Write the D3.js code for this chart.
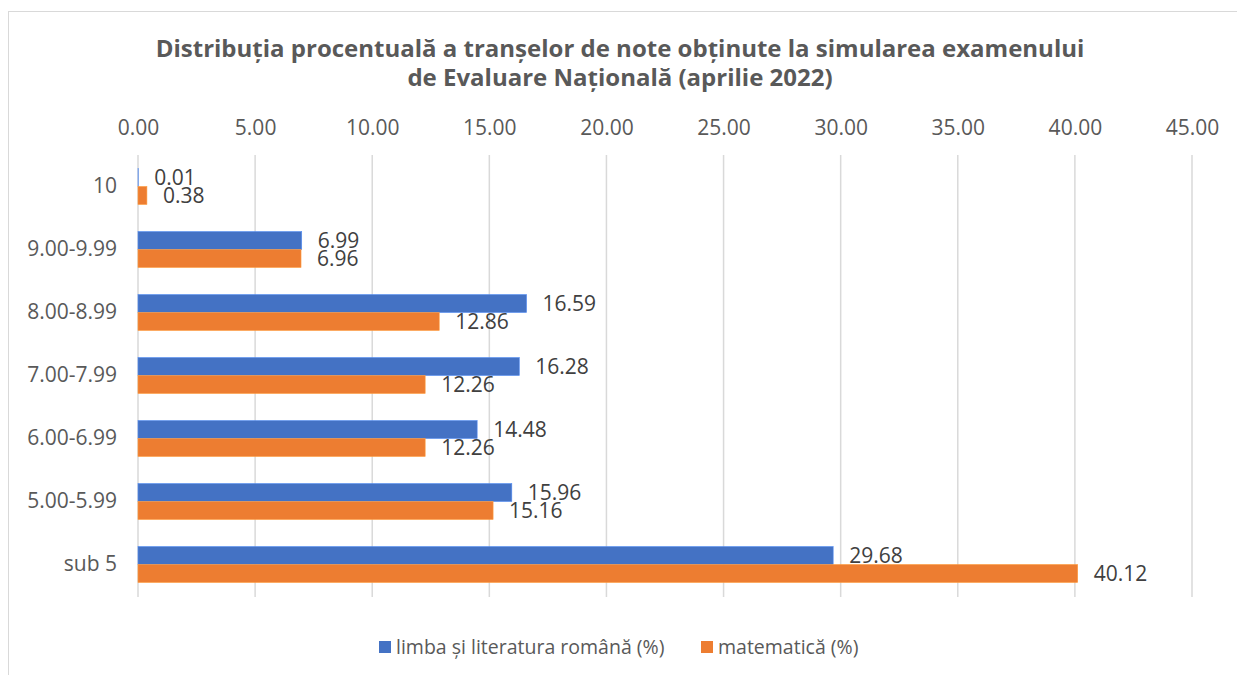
<!DOCTYPE html>
<html>
<head>
<meta charset="utf-8">
<script src="https://cdn.jsdelivr.net/npm/d3@7"></script>
<style>
  body { margin: 0; background: #fff; }
  svg { display: block; font-family: "Open Sans", Lato, sans-serif; }
</style>
</head>
<body>
<div id="chart"></div>
<script>
// data
const categories = ["10", "9.00-9.99", "8.00-8.99", "7.00-7.99", "6.00-6.99", "5.00-5.99", "sub 5"];
const seriesNames = ["limba și literatura română (%)", "matematică (%)"];
const romana = [0.01, 6.99, 16.59, 16.28, 14.48, 15.96, 29.68];
const matematica = [0.38, 6.96, 12.86, 12.26, 12.26, 15.16, 40.12];
const xTicks = [0, 5, 10, 15, 20, 25, 30, 35, 40, 45];
const colors = ["#4472c4", "#ed7d31"];

const W = 1237, H = 675;
const svg = d3.select("#chart").append("svg")
    .attr("width", W)
    .attr("height", H);

// chart area frame (cropped at right and bottom)
svg.append("rect")
    .attr("x", 8.5).attr("y", 11.5)
    .attr("width", 1300).attr("height", 800)
    .attr("fill", "none")
    .attr("stroke", "#d9d9d9");

// title
const title = svg.append("text")
    .attr("text-anchor", "middle")
    .attr("fill", "#595959")
    .attr("font-weight", "bold")
    .attr("font-size", 24);
title.append("tspan").attr("x", 620).attr("y", 57)
    .text("Distribuția procentuală a tranșelor de note obținute la simularea examenului");
title.append("tspan").attr("x", 620).attr("y", 86)
    .text("de Evaluare Națională (aprilie 2022)");

const x = d3.scaleLinear().domain([0, 45]).range([138, 1192]);
const y = d3.scaleBand().domain(categories).range([155, 596])
    .paddingInner(0.43).paddingOuter(0.215);
const ySub = d3.scaleBand().domain([0, 1]).range([0, y.bandwidth()]);

// vertical gridlines
svg.append("g").selectAll("line")
    .data(xTicks)
    .join("line")
    .attr("x1", d => x(d)).attr("x2", d => x(d))
    .attr("y1", 155).attr("y2", 597)
    .attr("stroke", "#d9d9d9")
    .attr("stroke-width", 1.5);

// top axis labels
const xAxis = d3.axisTop(x).tickValues(xTicks).tickFormat(d3.format(".2f")).tickSize(0).tickPadding(0);
const gx = svg.append("g").attr("transform", "translate(0,135)").call(xAxis);
gx.select(".domain").remove();
gx.selectAll("text")
    .attr("font-family", "'Open Sans', Lato, sans-serif")
    .attr("font-size", 21)
    .attr("fill", "#595959");

// category labels
const yAxis = d3.axisLeft(y).tickSize(0).tickPadding(0);
const gy = svg.append("g").attr("transform", "translate(117,0)").call(yAxis);
gy.select(".domain").remove();
gy.selectAll("text")
    .attr("font-family", "'Open Sans', Lato, sans-serif")
    .attr("font-size", 21)
    .attr("fill", "#595959");

// bars
const series = [romana, matematica];
series.forEach(function (vals, s) {
    const g = svg.append("g");
    g.selectAll("rect")
        .data(vals)
        .join("rect")
        .attr("x", x(0))
        .attr("y", (d, i) => y(categories[i]) + ySub(s))
        .attr("width", d => x(d) - x(0))
        .attr("height", ySub.bandwidth())
        .attr("fill", colors[s])
        .attr("stroke", d3.color(colors[s]).brighter(0.6))
        .attr("stroke-width", 0.6);

    g.selectAll("text")
        .data(vals)
        .join("text")
        .attr("x", d => x(d) + 16)
        .attr("y", (d, i) => y(categories[i]) + ySub(s) + ySub.bandwidth() / 2)
        .attr("dy", "0.36em")
        .attr("font-size", 21)
        .attr("fill", "#404040")
        .text(d => d.toFixed(2));
});

// legend
const legendPos = [379, 701];
const legend = svg.append("g");
seriesNames.forEach(function (name, s) {
    legend.append("rect")
        .attr("x", legendPos[s]).attr("y", 641)
        .attr("width", 12).attr("height", 12)
        .attr("fill", colors[s]);
    legend.append("text")
        .attr("x", legendPos[s] + 17).attr("y", 654)
        .attr("font-size", 19.5)
        .attr("fill", "#595959")
        .text(name);
});
</script>
</body>
</html>
